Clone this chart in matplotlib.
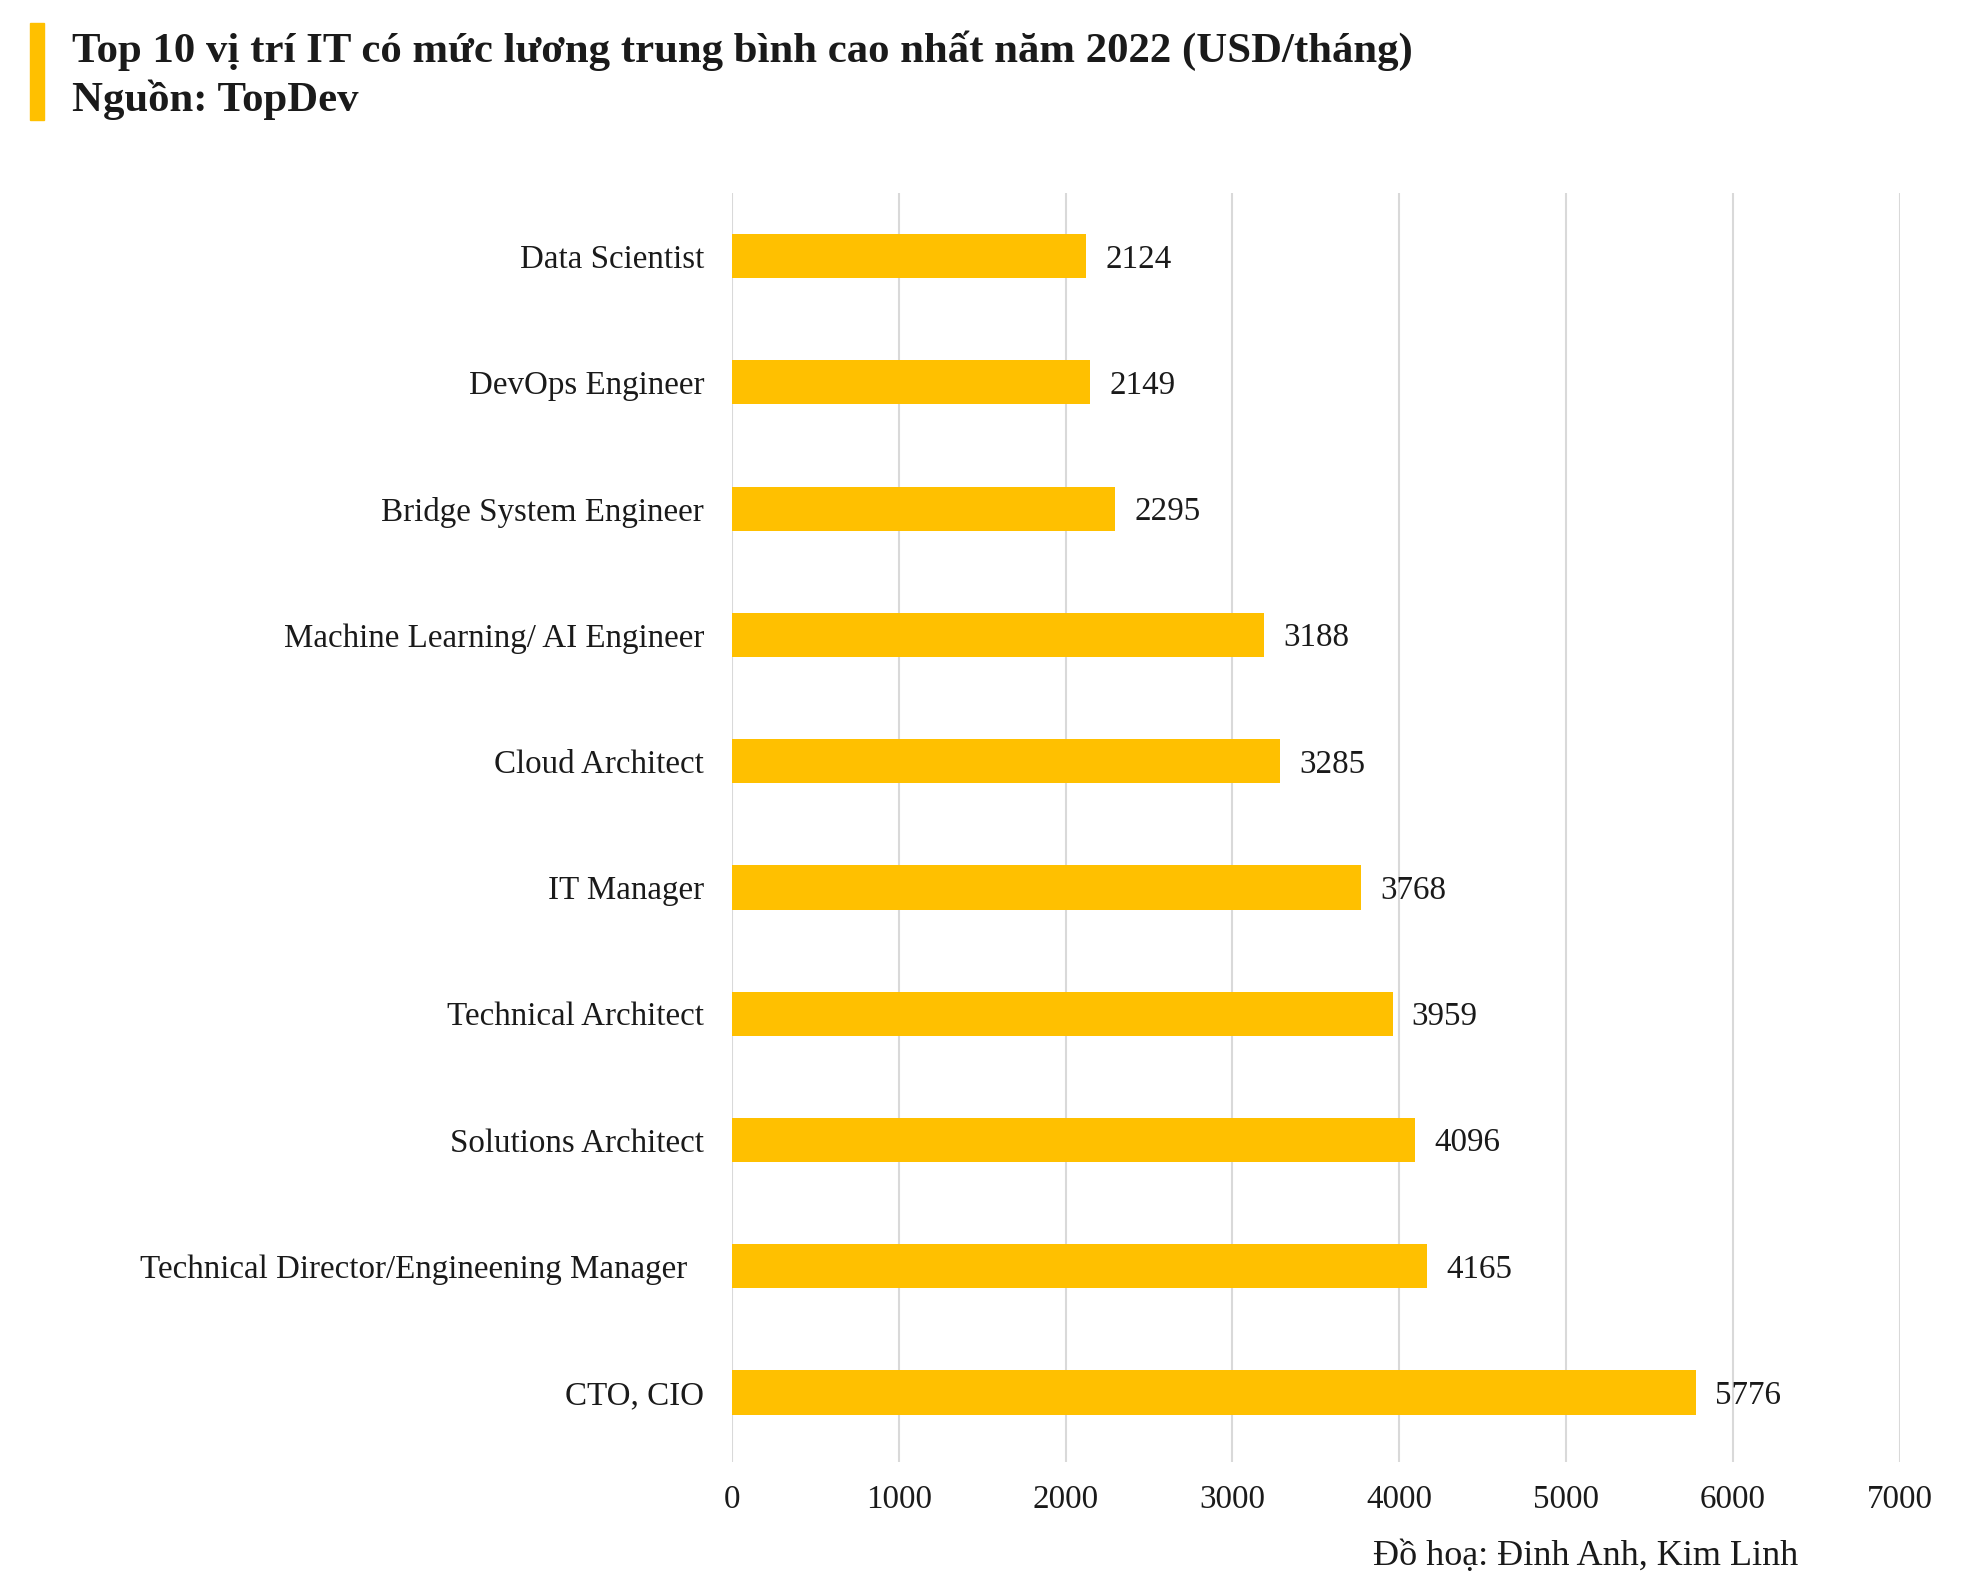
import matplotlib.pyplot as plt
from matplotlib.patches import Rectangle

# data, read top to bottom
jobs = ['Data Scientist', 'DevOps Engineer', 'Bridge System Engineer',
        'Machine Learning/ AI Engineer', 'Cloud Architect', 'IT Manager',
        'Technical Architect', 'Solutions Architect',
        'Technical Director/Engineening Manager  ', 'CTO, CIO']
salary = [2124, 2149, 2295, 3188, 3285, 3768, 3959, 4096, 4165, 5776]
xticks = [0, 1000, 2000, 3000, 4000, 5000, 6000, 7000]

plt.rcParams['font.family'] = ['Liberation Serif', 'DejaVu Serif']
gold = '#FFC000'
ink = '#1a1a1a'
fs = 23.8

fig = plt.figure(figsize=(19.76, 15.87), dpi=100)
ax = fig.add_axes([0.3704, 0.0788, 0.5911, 0.7996])

ypos = list(range(len(jobs)))
ax.barh(ypos, salary, height=0.35, color=gold, zorder=3)
for y, v in zip(ypos, salary):
    ax.text(v + 115, y + 0.025, str(v), va='center', ha='left', fontsize=fs, color=ink)

ax.set_ylim(9.55, -0.5)
ax.set_xlim(0, 7000)
ax.set_yticks(ypos)
ax.set_yticklabels(jobs)
ax.set_xticks(xticks)
ax.set_xticklabels([str(t) for t in xticks])
ax.tick_params(axis='y', length=0, pad=20, labelsize=fs, labelcolor=ink)
ax.tick_params(axis='x', length=0, pad=16, labelsize=fs, labelcolor=ink)
ax.grid(axis='x', color='#d9d9d9', linewidth=1.5, zorder=0)
for s in ax.spines.values():
    s.set_visible(False)

# title block
fig.patches.append(Rectangle((0.0152, 0.9244), 0.0071, 0.0611,
                             transform=fig.transFigure, color=gold))
fig.text(0.0364, 0.968, 'Top 10 vị trí IT có mức lương trung bình cao nhất năm 2022 (USD/tháng)',
         fontsize=30.8, fontweight='bold', color=ink, va='center', ha='left')
fig.text(0.0364, 0.937, 'Nguồn: TopDev',
         fontsize=30.8, fontweight='bold', color=ink, va='center', ha='left')

fig.text(0.91, 0.019, 'Đồ hoạ: Đinh Anh, Kim Linh', fontsize=26, color=ink,
         ha='right', va='center')

fig.savefig('out.png', dpi=100, facecolor='white')
